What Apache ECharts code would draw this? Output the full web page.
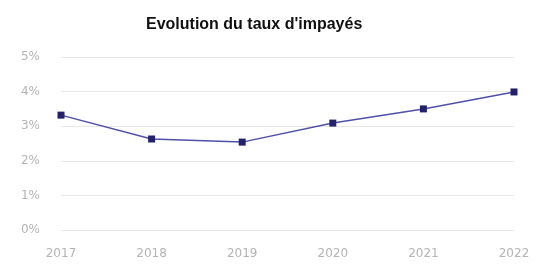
<!DOCTYPE html>
<html lang="fr">
<head>
<meta charset="UTF-8">
<title>Evolution du taux d'impayés</title>
<script src="https://cdn.jsdelivr.net/npm/echarts@6/dist/echarts.min.js"></script>
<style>body{margin:0;background:#fff}</style>
</head>
<body>
<div id="main" style="width:537px;height:267px;"></div>
<script type="text/javascript">
// data
const years = ['2017', '2018', '2019', '2020', '2021', '2022'];
const rates = [3.32, 2.63, 2.54, 3.09, 3.5, 3.99];

let myChart = echarts.init(document.getElementById('main'));

let options = {
  animation: false,
  title: {
    text: "Evolution du taux d'impayés",
    left: 141,
    top: 12,
    textStyle: { fontFamily: 'Liberation Sans', fontSize: 16, fontWeight: 'bold', color: '#111' }
  },
  grid: { left: 61, right: 23, top: 57, bottom: 37 },
  xAxis: {
    type: 'category',
    data: years,
    boundaryGap: false,
    axisLine: { show: false },
    axisTick: { show: false },
    axisLabel: { color: '#b4b4b4', fontFamily: 'DejaVu Sans', fontSize: 12, margin: 18 }
  },
  yAxis: {
    type: 'value',
    min: 0,
    max: 5,
    interval: 1,
    axisLabel: { color: '#b4b4b4', fontFamily: 'DejaVu Sans', fontSize: 12, margin: 21, formatter: '{value}%' },
    splitLine: { lineStyle: { color: '#e8e8e8' } }
  },
  series: [{
    name: "Taux d'impayés",
    type: 'line',
    data: rates,
    symbol: 'rect',
    symbolSize: 7,
    itemStyle: { color: '#24206e' },
    lineStyle: { color: '#5050a8', width: 1.5 }
  }]
};

myChart.setOption(options);
</script>
</body>
</html>
